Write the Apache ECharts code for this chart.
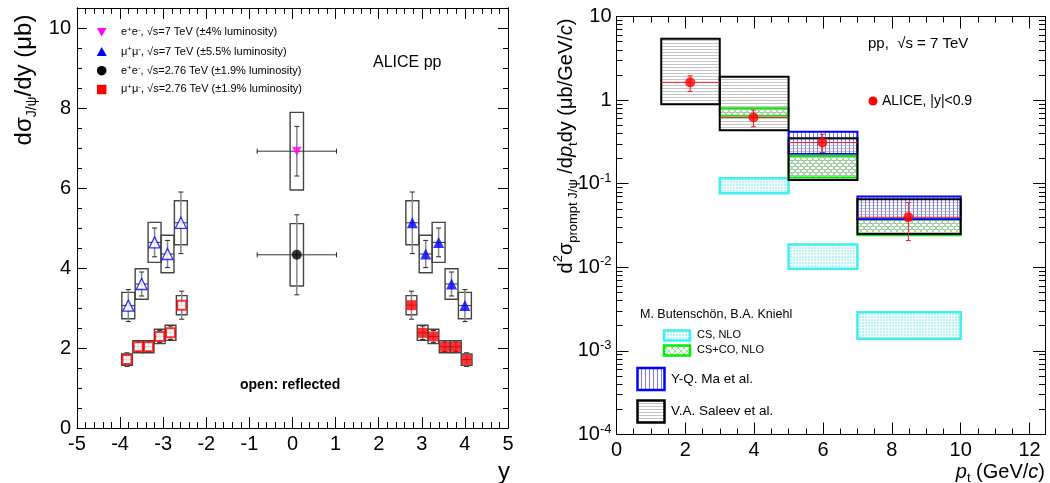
<!DOCTYPE html>
<html><head><meta charset="utf-8">
<script src="https://cdn.jsdelivr.net/npm/echarts@6/dist/echarts.min.js"></script>
<style>html,body{margin:0;padding:0;background:#fff}#c{width:1050px;height:483px}</style>
</head><body><div id="c"></div>
<script>
// ---------------- Left panel data: dσ/dy (μb) vs rapidity y ----------------
const mu7Y      = [2.78, 3.09, 3.39, 3.69, 4.00];
const mu7Val    = [5.13, 4.35, 4.64, 3.60, 3.06];
const mu7Stat   = [0.77, 0.34, 0.36, 0.30, 0.40];
const mu7Syst   = [0.55, 0.47, 0.50, 0.38, 0.33];
const mu7RefY   = [-3.81, -3.50, -3.20, -2.90, -2.59];   // reflected points (values mirrored)
const mu7BinHalf = 0.15;

const mu276Y    = [2.76, 3.02, 3.27, 3.53, 3.79, 4.04];
const mu276Val  = [3.07, 2.38, 2.29, 2.03, 2.03, 1.71];
const mu276Stat = [0.35, 0.17, 0.15, 0.12, 0.12, 0.17];
const mu276Syst = [0.24, 0.19, 0.18, 0.15, 0.15, 0.14];
const mu276RefY = [-3.84, -3.58, -3.34, -3.08, -2.83, -2.57];
const mu276BinHalf = 0.125;

const eeY      = [0.1, 0.1];        // 7 TeV, 2.76 TeV (|y|<0.9)
const eeVal    = [6.92, 4.33];
const eeStat   = [0.62, 1.00];
const eeSyst   = [0.97, 0.78];
const eeYErr   = 0.92;
const eeBoxHalf = 0.155;

const leftXTicks = [-5, 5];
const leftYMax = 10.5;

// ---------------- Right panel data: d2σ/dpt dy (μb/GeV/c) vs pt ----------------
const ptLo     = [1.3, 3, 5, 7];
const ptHi     = [3, 5, 7, 10];
const alicePt  = [2.14, 3.98, 5.98, 8.48];
const aliceVal = [1.63, 0.62, 0.311, 0.0397];
const aliceUp  = [1.95, 0.76, 0.39, 0.0595];
const aliceDn  = [1.27, 0.48, 0.236, 0.0209];

const saleevBins = [0, 1, 2, 3];
const saleevLo   = [0.895, 0.437, 0.111, 0.0251];
const saleevHi   = [5.4, 1.9, 0.35, 0.0652];
const maBins     = [2, 3];
const maLo       = [0.226, 0.0376];
const maHi       = [0.417, 0.0703];
const cscoBins   = [1, 2, 3];
const cscoLo     = [0.65, 0.119, 0.0242];
const cscoHi     = [0.80, 0.215, 0.0376];
const csBins     = [1, 2, 3];
const csLo       = [0.077, 0.0096, 0.0014];
const csHi       = [0.116, 0.0188, 0.0029];

const rightXMax = 12.45;
const rightYMin = 1e-4, rightYMax = 10;

// ---------------- helpers ----------------
const FONT = 'Liberation Sans, Arial, Helvetica, sans-serif';
function pat(w, h, draw) {
  const c = document.createElement('canvas'); c.width = w; c.height = h;
  const g = c.getContext('2d'); draw(g); return { image: c, repeat: 'repeat' };
}
const patSaleev = pat(4, 3, g => { g.fillStyle = 'rgba(150,150,150,0.55)'; g.fillRect(0, 1, 4, 1); });
const patMa = pat(4, 4, g => { g.fillStyle = 'rgba(100,100,255,0.85)'; g.fillRect(1, 0, 1, 4); });
const patCsco = pat(6, 6, g => {
  g.strokeStyle = 'rgba(120,225,120,0.8)'; g.lineWidth = 1;
  g.beginPath(); g.moveTo(0, 0); g.lineTo(6, 6); g.moveTo(6, 0); g.lineTo(0, 6); g.stroke();
});
const patCs = pat(3, 3, g => { g.fillStyle = '#b4f6f6'; g.fillRect(0, 0, 3, 3); g.fillStyle = '#ffffff'; g.fillRect(0, 0, 1, 3); g.fillRect(0, 0, 3, 1); });

const zip = (...arrs) => arrs[0].map((_, i) => arrs.map(a => a[i]));
const rev = a => a.slice().reverse();

// box data: [x, value, syst, half]
const boxData = [].concat(
  zip(mu7Y, mu7Val, mu7Syst, mu7Y.map(() => mu7BinHalf)),
  zip(mu7RefY, rev(mu7Val), rev(mu7Syst), mu7Y.map(() => mu7BinHalf)),
  zip(mu276Y, mu276Val, mu276Syst, mu276Y.map(() => mu276BinHalf)),
  zip(mu276RefY, rev(mu276Val), rev(mu276Syst), mu276Y.map(() => mu276BinHalf)),
  zip(eeY, eeVal, eeSyst, eeY.map(() => eeBoxHalf))
);
// error data: [x, value, xerr, stat, caps]
const errData = [].concat(
  zip(mu7Y, mu7Val, mu7Y.map(() => mu7BinHalf), mu7Stat, mu7Y.map(() => 0)),
  zip(mu7RefY, rev(mu7Val), mu7Y.map(() => mu7BinHalf), rev(mu7Stat), mu7Y.map(() => 0)),
  zip(mu276Y, mu276Val, mu276Y.map(() => mu276BinHalf), mu276Stat, mu276Y.map(() => 0)),
  zip(mu276RefY, rev(mu276Val), mu276Y.map(() => mu276BinHalf), rev(mu276Stat), mu276Y.map(() => 0)),
  zip(eeY, eeVal, eeY.map(() => eeYErr), eeStat, eeY.map(() => 1))
);

function boxRender(params, api) {
  const x = api.value(0), v = api.value(1), s = api.value(2), h = api.value(3);
  const a = api.coord([x - h, v + s]), b = api.coord([x + h, v - s]);
  return { type: 'rect', shape: { x: a[0], y: a[1], width: b[0] - a[0], height: b[1] - a[1] },
    style: { fill: 'none', stroke: '#444', lineWidth: 1.4 } };
}
function errRender(params, api) {
  const x = api.value(0), v = api.value(1), xe = api.value(2), se = api.value(3), cap = api.value(4);
  const c = api.coord([x, v]), t = api.coord([x, v + se]), b = api.coord([x, v - se]);
  const l = api.coord([x - xe, v]), r = api.coord([x + xe, v]);
  const ch = [
    { type: 'line', shape: { x1: c[0], y1: t[1], x2: c[0], y2: b[1] }, style: { stroke: '#888', lineWidth: 1.5 } },
    { type: 'line', shape: { x1: c[0] - 2.5, y1: t[1], x2: c[0] + 2.5, y2: t[1] }, style: { stroke: '#222', lineWidth: 1 } },
    { type: 'line', shape: { x1: c[0] - 2.5, y1: b[1], x2: c[0] + 2.5, y2: b[1] }, style: { stroke: '#222', lineWidth: 1 } },
    { type: 'line', shape: { x1: l[0], y1: c[1], x2: r[0], y2: c[1] }, style: { stroke: '#333', lineWidth: 1 } }
  ];
  if (cap) {
    ch.push({ type: 'line', shape: { x1: l[0], y1: c[1] - 2.5, x2: l[0], y2: c[1] + 2.5 }, style: { stroke: '#222', lineWidth: 1 } });
    ch.push({ type: 'line', shape: { x1: r[0], y1: c[1] - 2.5, x2: r[0], y2: c[1] + 2.5 }, style: { stroke: '#222', lineWidth: 1 } });
  }
  return { type: 'group', children: ch };
}
function modelRender(stroke, fill, lw) {
  return function (params, api) {
    const a = api.coord([api.value(0), api.value(3)]);
    const b = api.coord([api.value(1), api.value(2)]);
    return { type: 'rect', shape: { x: a[0], y: a[1], width: b[0] - a[0], height: b[1] - a[1] },
      style: { fill: fill, stroke: stroke, lineWidth: lw } };
  };
}
function aliceRender(params, api) {
  const x = api.value(0), v = api.value(1), lo = api.value(2), hi = api.value(3), up = api.value(4), dn = api.value(5);
  const c = api.coord([x, v]), t = api.coord([x, up]), b = api.coord([x, dn]);
  const l = api.coord([lo, v]), r = api.coord([hi, v]);
  const st = { stroke: '#e8202a', lineWidth: 1 };
  return { type: 'group', children: [
    { type: 'line', shape: { x1: c[0], y1: t[1], x2: c[0], y2: b[1] }, style: st },
    { type: 'line', shape: { x1: c[0] - 2.5, y1: t[1], x2: c[0] + 2.5, y2: t[1] }, style: st },
    { type: 'line', shape: { x1: c[0] - 2.5, y1: b[1], x2: c[0] + 2.5, y2: b[1] }, style: st },
    { type: 'line', shape: { x1: l[0], y1: c[1], x2: r[0], y2: c[1] }, style: st }
  ] };
}
const modelData = (bins, lo, hi) => bins.map((bi, i) => [ptLo[bi], ptHi[bi], lo[i], hi[i]]);

// axis helpers
const lineSt = { show: true, onZero: false, lineStyle: { color: '#000', width: 1 } };
function ax(grid, pos, min, max, interval, tickLen, labels, extra, showMax) {
  return Object.assign({
    type: 'value', gridIndex: grid, position: pos, min, max, interval,
    axisLine: lineSt, splitLine: { show: false },
    axisTick: { show: true, inside: true, length: tickLen, lineStyle: { color: '#000', width: 1 } },
    axisLabel: labels ? { show: true, fontFamily: FONT, fontSize: 20, color: '#000', margin: 6, showMaxLabel: !!showMax } : { show: false }
  }, extra || {});
}
const logMinor = [];
for (let k = -4; k <= 0; k++) for (let m = 2; m <= 9; m++) logMinor.push(Number((m * Math.pow(10, k)).toPrecision(3)));
const logMajor = [1e-4, 1e-3, 1e-2, 1e-1, 1, 10];
function logAx(pos, tickLen, labels, custom) {
  return {
    type: 'log', logBase: 10, gridIndex: 1, position: pos, min: rightYMin, max: rightYMax,
    axisLine: lineSt, splitLine: { show: false },
    axisTick: { show: true, inside: true, length: tickLen, customValues: custom, lineStyle: { color: '#000', width: 1 } },
    axisLabel: labels ? {
      show: true, fontFamily: FONT, fontSize: 20, color: '#000', margin: 5, customValues: logMajor,
      formatter: v => { const e = Math.round(Math.log10(v)); return e === 1 ? '10' : e === 0 ? '1' : '10{s|' + e + '}'; },
      rich: { s: { fontFamily: FONT, fontSize: 13, verticalAlign: 'top', lineHeight: 24, color: '#000' } }
    } : { show: false }
  };
}
const minorX = { minorTick: { show: true, splitNumber: 5, length: 6, lineStyle: { color: '#000' } } };

const option = {
  animation: false,
  backgroundColor: '#fff',
  grid: [
    { left: 77, top: 8, width: 431, height: 420 },
    { left: 616.5, top: 16.5, width: 428.5, height: 418 }
  ],
  xAxis: [
    ax(0, 'bottom', leftXTicks[0], leftXTicks[1], 1, 11, true, minorX, true),
    ax(0, 'top', leftXTicks[0], leftXTicks[1], 1, 11, false, minorX),
    ax(1, 'bottom', 0, rightXMax, 2, 12, true),
    ax(1, 'bottom', 0, rightXMax, 0.5, 6, false),
    ax(1, 'top', 0, rightXMax, 2, 12, false),
    ax(1, 'top', 0, rightXMax, 0.5, 6, false)
  ],
  yAxis: [
    ax(0, 'left', 0, leftYMax, 2, 10, true),
    ax(0, 'left', 0, leftYMax, 0.5, 5, false),
    ax(0, 'right', 0, leftYMax, 2, 10, false),
    ax(0, 'right', 0, leftYMax, 0.5, 5, false),
    logAx('left', 12, true, logMajor),
    logAx('left', 6, false, logMinor),
    logAx('right', 12, false, logMajor),
    logAx('right', 6, false, logMinor)
  ],
  series: [
    { type: 'custom', name: 'syst', xAxisIndex: 0, yAxisIndex: 0, renderItem: boxRender, data: boxData, z: 2 },
    { type: 'custom', name: 'stat', xAxisIndex: 0, yAxisIndex: 0, renderItem: errRender, data: errData, z: 3 },
    { type: 'scatter', name: 'mu7', xAxisIndex: 0, yAxisIndex: 0, symbol: 'triangle', symbolSize: 11, z: 5,
      itemStyle: { color: '#0000ff' }, data: zip(mu7Y, mu7Val) },
    { type: 'scatter', name: 'mu7ref', xAxisIndex: 0, yAxisIndex: 0, symbol: 'triangle', symbolSize: 11, z: 5,
      itemStyle: { color: '#fff', borderColor: '#0000ff', borderWidth: 1.3 }, data: zip(mu7RefY, rev(mu7Val)) },
    { type: 'scatter', name: 'mu276', xAxisIndex: 0, yAxisIndex: 0, symbol: 'rect', symbolSize: 10, z: 5,
      itemStyle: { color: '#ff0000' }, data: zip(mu276Y, mu276Val) },
    { type: 'scatter', name: 'mu276ref', xAxisIndex: 0, yAxisIndex: 0, symbol: 'rect', symbolSize: 9, z: 5,
      itemStyle: { color: '#fff', borderColor: '#ff0000', borderWidth: 2 }, data: zip(mu276RefY, rev(mu276Val)) },
    { type: 'scatter', name: 'ee7', xAxisIndex: 0, yAxisIndex: 0, symbol: 'path://M0,0 L10,0 L5,9 Z', symbolSize: [10, 9], z: 5,
      itemStyle: { color: '#ff00ff' }, data: [[eeY[0], eeVal[0]]] },
    { type: 'scatter', name: 'ee276', xAxisIndex: 0, yAxisIndex: 0, symbol: 'circle', symbolSize: 10, z: 5,
      itemStyle: { color: '#000' }, data: [[eeY[1], eeVal[1]]] },

    { type: 'custom', name: 'CS', xAxisIndex: 2, yAxisIndex: 4, renderItem: modelRender('#3ff0f0', patCs, 2.5),
      data: modelData(csBins, csLo, csHi), z: 2 },
    { type: 'custom', name: 'CS+CO', xAxisIndex: 2, yAxisIndex: 4, renderItem: modelRender('#00ee00', patCsco, 2),
      data: modelData(cscoBins, cscoLo, cscoHi), z: 2 },
    { type: 'custom', name: 'Ma', xAxisIndex: 2, yAxisIndex: 4, renderItem: modelRender('#0000ff', patMa, 2),
      data: modelData(maBins, maLo, maHi), z: 2 },
    { type: 'custom', name: 'Saleev', xAxisIndex: 2, yAxisIndex: 4, renderItem: modelRender('#000', patSaleev, 2),
      data: modelData(saleevBins, saleevLo, saleevHi), z: 2 },
    { type: 'custom', name: 'ALICE err', xAxisIndex: 2, yAxisIndex: 4, renderItem: aliceRender, z: 4,
      data: alicePt.map((p, i) => [p, aliceVal[i], ptLo[i], ptHi[i], aliceUp[i], aliceDn[i]]) },
    { type: 'scatter', name: 'ALICE', xAxisIndex: 2, yAxisIndex: 4, symbol: 'circle', symbolSize: 10, z: 5,
      itemStyle: { color: '#ff0000' }, data: zip(alicePt, aliceVal) }
  ],
  graphic: [
    // left panel legend
    { type: 'polygon', shape: { points: [[97, 28], [106.5, 28], [101.7, 36.5]] }, style: { fill: '#ff00ff' } },
    { type: 'polygon', shape: { points: [[101.7, 47], [106.7, 56], [96.7, 56]] }, style: { fill: '#0000ff' } },
    { type: 'circle', shape: { cx: 101.7, cy: 70.7, r: 4.8 }, style: { fill: '#000' } },
    { type: 'rect', shape: { x: 97, y: 84.8, width: 9.4, height: 9.4 }, style: { fill: '#ff0000' } },
    ...[
      '{t|e}{p|+}{t|e}{p|-}{t|, √s=7 TeV (±4% luminosity)}',
      '{t|μ}{p|+}{t|μ}{p|-}{t|, √s=7 TeV (±5.5% luminosity)}',
      '{t|e}{p|+}{t|e}{p|-}{t|, √s=2.76 TeV (±1.9% luminosity)}',
      '{t|μ}{p|+}{t|μ}{p|-}{t|, √s=2.76 TeV (±1.9% luminosity)}'
    ].map((txt, i) => ({
      type: 'text', x: 121, y: [32.3, 51.7, 70.7, 89.3][i],
      style: { text: txt, verticalAlign: 'middle', align: 'left',
        rich: { t: { fontFamily: FONT, fontSize: 11, lineHeight: 14, fill: '#000' },
                p: { fontFamily: FONT, fontSize: 8, lineHeight: 14, verticalAlign: 'top', fill: '#000' } } }
    })),
    { type: 'text', x: 373, y: 63, style: { text: 'ALICE pp', font: '16px ' + FONT, fill: '#000', verticalAlign: 'middle' } },
    { type: 'text', x: 240, y: 385, style: { text: 'open: reflected', font: 'bold 14px ' + FONT, fill: '#000', verticalAlign: 'middle' } },
    // left axis titles
    { type: 'text', x: 24, y: 80, rotation: Math.PI / 2,
      style: { text: '{m|dσ}{s|J/ψ}{m|/dy (μb)}', align: 'center', verticalAlign: 'middle',
        rich: { m: { fontFamily: FONT, fontSize: 24, lineHeight: 30, fill: '#000' },
                s: { fontFamily: FONT, fontSize: 14, lineHeight: 30, verticalAlign: 'bottom', fill: '#000' } } } },
    { type: 'text', x: 510, y: 472, style: { text: 'y', font: '24px ' + FONT, fill: '#000', align: 'right', verticalAlign: 'middle' } },
    // right axis titles
    { type: 'text', x: 566, y: 146, rotation: Math.PI / 2,
      style: { text: '{m|d}{u|2}{m|σ}{s|prompt J/ψ}{m| /d}{i|p}{s|t}{m|dy (μb/GeV/}{i|c}{m|)}', align: 'center', verticalAlign: 'middle',
        rich: { m: { fontFamily: FONT, fontSize: 20, lineHeight: 28, fill: '#000' },
                i: { fontFamily: FONT, fontStyle: 'italic', fontSize: 20, lineHeight: 28, fill: '#000' },
                u: { fontFamily: FONT, fontSize: 13, lineHeight: 28, verticalAlign: 'top', fill: '#000' },
                s: { fontFamily: FONT, fontSize: 13, lineHeight: 28, verticalAlign: 'bottom', fill: '#000' } } } },
    { type: 'text', x: 1045, y: 472,
      style: { text: '{i|p}{s|t}{m| (GeV/}{i|c}{m|)}', align: 'right', verticalAlign: 'middle',
        rich: { m: { fontFamily: FONT, fontSize: 20, lineHeight: 26, fill: '#000' },
                i: { fontFamily: FONT, fontStyle: 'italic', fontSize: 20, lineHeight: 26, fill: '#000' },
                s: { fontFamily: FONT, fontSize: 13, lineHeight: 26, verticalAlign: 'bottom', fill: '#000' } } } },
    // right panel texts
    { type: 'text', x: 868, y: 44, style: { text: 'pp,  √s = 7 TeV', font: '15px ' + FONT, fill: '#000', verticalAlign: 'middle' } },
    { type: 'circle', shape: { cx: 873, cy: 101, r: 4.5 }, style: { fill: '#ff0000' } },
    { type: 'text', x: 882, y: 101, style: { text: 'ALICE, |y|<0.9', font: '14px ' + FONT, fill: '#000', verticalAlign: 'middle' } },
    { type: 'text', x: 640, y: 315, style: { text: 'M. Butenschön, B.A. Kniehl', font: '12.5px ' + FONT, fill: '#000', verticalAlign: 'middle' } },
    { type: 'rect', shape: { x: 664, y: 330.5, width: 26, height: 10 }, style: { fill: patCs, stroke: '#3ff0f0', lineWidth: 2.5 } },
    { type: 'text', x: 697, y: 335, style: { text: 'CS, NLO', font: '11px ' + FONT, fill: '#000', verticalAlign: 'middle' } },
    { type: 'rect', shape: { x: 664, y: 345.5, width: 26, height: 10 }, style: { fill: patCsco, stroke: '#00ee00', lineWidth: 2.5 } },
    { type: 'text', x: 697, y: 350, style: { text: 'CS+CO, NLO', font: '11px ' + FONT, fill: '#000', verticalAlign: 'middle' } },
    { type: 'rect', shape: { x: 637.5, y: 368, width: 27, height: 22 }, style: { fill: patMa, stroke: '#0000ff', lineWidth: 2.5 } },
    { type: 'text', x: 671, y: 379.5, style: { text: 'Y-Q. Ma et al.', font: '13.5px ' + FONT, fill: '#000', verticalAlign: 'middle' } },
    { type: 'rect', shape: { x: 637.5, y: 400.5, width: 27, height: 22 }, style: { fill: patSaleev, stroke: '#000', lineWidth: 2.5 } },
    { type: 'text', x: 671, y: 411.5, style: { text: 'V.A. Saleev et al.', font: '13.5px ' + FONT, fill: '#000', verticalAlign: 'middle' } }
  ]
};
const chart = echarts.init(document.getElementById('c'), null, { renderer: 'canvas' });
chart.setOption(option);
</script></body></html>
